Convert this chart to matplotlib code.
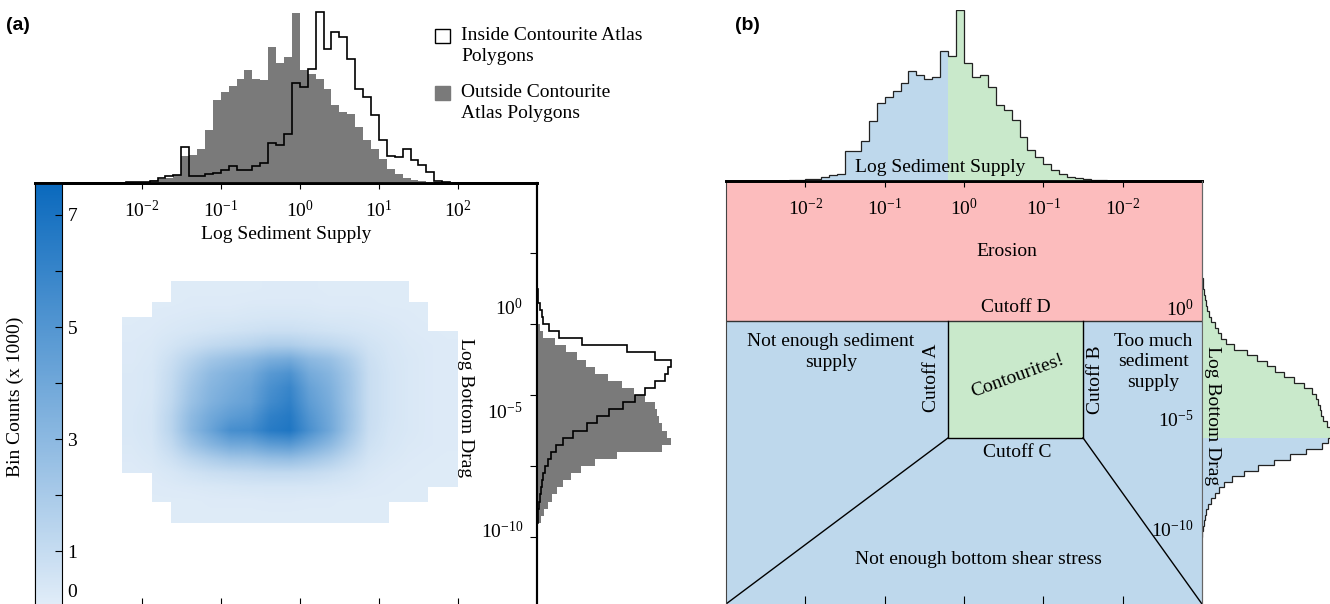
import numpy as np
import matplotlib
matplotlib.use('Agg')
import matplotlib.pyplot as plt
from matplotlib.colors import LinearSegmentedColormap
from matplotlib.patches import Rectangle

plt.rcParams['font.family'] = ['Liberation Serif', 'DejaVu Serif']
plt.rcParams['mathtext.fontset'] = 'custom'
plt.rcParams['mathtext.rm'] = 'Liberation Serif'
plt.rcParams['mathtext.it'] = 'Liberation Serif:italic'
plt.rcParams['mathtext.bf'] = 'Liberation Serif:bold'
plt.rcParams['font.size'] = 14

nan = np.nan

# ---------------- data ----------------
# log10 sediment supply bins (0.1 decade), panel (a) top histogram
supply_edges = np.round(np.linspace(-3.0, 2.5, 56), 2)
supply_outside = [0, 0, 0, 0, 0, 0, 0.3, 0.3, 0.5, 0.8,
                  1.5, 2.7, 3.7, 5, 7.7, 27, 28, 34, 53, 83,
                  91, 97, 104, 113, 104, 103, 136, 120, 126, 170,
                  113, 109, 104, 94, 78, 71, 69, 56, 43, 34,
                  24, 14, 9, 5, 3.3, 2, 1, 0.5, 0.3, 0,
                  0, 0, 0, 0, 0]
supply_inside = [0.3, 0.3, 0.3, 0.3, 0.3, 0.3, 0.4, 0.5, 0.6, 0.8,
                 1, 2, 5, 7, 8, 36, 7, 7.5, 9, 10,
                 13, 17, 13, 13, 17, 20, 40, 38, 49, 100,
                 96, 114, 171, 134, 151, 146, 124, 94, 86, 68,
                 43, 27, 26, 34, 23, 18, 11, 2, 0.8, 0.5,
                 0.3, 0.3, 0.3, 0.3, 0.3]

# log10 bottom drag bins (0.5 decade), panel (a) right histogram, bottom -> top
drag_edges = np.round(np.linspace(-14.5, 2.5, 35), 2)
drag_outside = [1, 4, 7, 11, 15, 20, 26, 34, 44, 58, 80, 125, 134, 130, 125, 122,
                120, 118, 108, 97, 85, 71, 58, 49, 40, 29, 18, 6, 3, 1, 0, 0, 0, 0]
drag_inside = [0, 0.5, 1, 2, 3, 4, 5, 6, 8, 11, 14, 19, 26, 36, 50, 60,
               72, 86, 98, 108, 118, 128, 131, 134, 118, 90, 45, 22, 12, 6, 5, 3, 1, 0.5]

# 2D bin counts (x 1000); columns: log supply -2.25..2.0 (0.25), rows: log drag 3..-14 (1)
bin_counts = np.array([
    [nan, nan, .1, .1, .1, .1, .1, .15, .15, .15, .1, .1, .1, .1, .1, nan, nan],
    [nan, .1, .1, .15, .15, .15, .2, .2, .2, .2, .15, .15, .15, .1, .1, .1, nan],
    [.1, .15, .2, .25, .3, .3, .35, .4, .4, .35, .3, .3, .25, .2, .15, .1, nan],
    [.15, .2, .3, .4, .5, .6, .7, .8, .8, .7, .6, .5, .4, .3, .2, .15, .1],
    [.2, .25, .5, .8, 1.1, 1.3, 1.5, 1.8, 1.8, 1.5, 1.3, 1.0, .6, .4, .25, .2, .15],
    [.2, .3, .8, 1.5, 2.2, 2.6, 3.0, 3.6, 3.8, 3.0, 2.6, 1.8, .8, .45, .3, .2, .15],
    [.25, .35, 1.0, 2.0, 2.9, 3.4, 3.8, 4.8, 5.2, 3.8, 3.2, 2.2, .9, .5, .3, .2, .15],
    [.25, .35, 1.1, 2.3, 3.2, 3.7, 4.2, 5.3, 5.9, 4.3, 3.5, 2.3, .9, .5, .3, .2, .15],
    [.25, .4, 1.2, 2.5, 3.4, 4.0, 4.4, 5.6, 6.2, 4.6, 3.7, 2.3, .9, .5, .3, .2, .15],
    [.3, .45, 1.4, 2.9, 3.9, 4.6, 5.0, 6.2, 6.6, 5.0, 3.9, 2.4, .9, .5, .3, .2, .15],
    [.3, .45, 1.4, 3.0, 4.2, 5.4, 5.6, 6.5, 6.8, 5.3, 4.0, 2.3, .85, .45, .3, .2, .15],
    [.25, .4, 1.1, 2.3, 3.2, 3.9, 4.0, 4.6, 4.8, 3.9, 3.0, 1.8, .7, .4, .25, .2, .15],
    [.2, .3, .7, 1.3, 1.8, 2.2, 2.3, 2.6, 2.7, 2.3, 1.8, 1.1, .5, .3, .2, .15, .1],
    [.15, .2, .35, .6, .8, .9, 1.0, 1.1, 1.1, 1.0, .8, .55, .3, .2, .15, .1, .1],
    [nan, .15, .2, .25, .3, .35, .4, .4, .4, .4, .35, .3, .2, .15, .1, .1, .1],
    [nan, .1, .1, .1, .15, .15, .15, .2, .2, .15, .15, .1, .1, .1, .1, .1, nan],
    [nan, nan, .1, .1, .1, .1, .1, .1, .1, .1, .1, .1, .1, .1, nan, nan, nan],
])
bin_extent = [-2.25, 2.0, -14, 3]

# panel (b): total histograms split by the cutoffs
total_supply_edges = np.round(np.linspace(-3.0, 3.0, 61), 2)
total_supply = [0.3] * 8 + [1, 1.5, 2, 2.5, 4, 6, 7, 30, 30, 40,
                            60, 78, 84, 90, 98, 110, 106, 102, 104, 130,
                            125, 171, 118, 104, 106, 94, 76, 71, 61, 44,
                            31, 24, 17, 11, 7, 4, 2.7, 1.7, 1, 0.7] + [0.3] * 12
total_drag_edges = np.round(np.linspace(-10.4, 1.35, 48), 2)
total_drag = [0.3, 0.8, 1.5, 2.5, 4, 6, 9, 13, 17, 22, 30, 42, 56, 72, 88, 104, 120, 126,
              132, 130, 125, 121, 119, 118, 116, 114, 110, 102, 92, 82, 73, 65, 55, 45,
              32, 24, 19, 16, 13, 9, 7, 5, 4, 3, 2, 1, 0.5]

cutoff_a = -0.2
cutoff_b = 1.5
cutoff_c = -5.9
cutoff_d = -0.6

decades = [-2, -1, 0, 1, 2]
supply_labels_a = ['$10^{-2}$', '$10^{-1}$', '$10^{0}$', '$10^{1}$', '$10^{2}$']
supply_labels_b = ['$10^{-2}$', '$10^{-1}$', '$10^{0}$', '$10^{-1}$', '$10^{-2}$']
drag_marks = [5, 0, -5, -10, -15]
drag_label_pos = [1.2, -6.1, -14.5]
drag_labels = ['$10^{0}$', '$10^{-5}$', '$10^{-10}$']
drag_labels_b_pos = [0, -5, -10]

count_ticks = [0, 1, 2, 3, 4, 5, 6, 7]
count_labels = ['', '1', '', '3', '', '5', '', '7']
zero_label_pos = 0.3  # the "0" sits just above the bottom edge

legend_labels = ['Inside Contourite Atlas\nPolygons', 'Outside Contourite\nAtlas Polygons']

grey = '#7a7a7a'
pink = '#fcbcbd'
blue = '#bed8ec'
green = '#c9e9cb'

W, H = 1330, 604
fig = plt.figure(figsize=(W / 100, H / 100), dpi=100)


def box(l, t, r, b):
    return fig.add_axes([l / W, (H - b) / H, (r - l) / W, (b - t) / H])


# ================= panel (a) =================
ax = box(35, 183, 537, 610)
cmap = LinearSegmentedColormap.from_list('bins', ['#e3eef9', '#0a69bd'])
im = ax.imshow(bin_counts, cmap=cmap, vmin=-0.05, vmax=7.57, extent=bin_extent,
               aspect='auto', interpolation='bilinear')
ax.set_xlim(-3.35, 3.0)
ax.set_ylim(-20.14, 9.93)
ax.set_facecolor('none')
ax.set_xticks(decades)
ax.set_yticks([])
ax.tick_params(axis='x', direction='in', length=9, labelbottom=False)
ax.spines['top'].set_linewidth(2)
ax.spines['left'].set_color('#333333')
ax.spines['right'].set_linewidth(1.5)

cax = box(35, 183, 62, 610)
cbar = fig.colorbar(im, cax=cax)
cbar.set_ticks(count_ticks)
cbar.set_ticklabels(count_labels)
cax.yaxis.set_ticks_position('right')
cax.set_yticks([zero_label_pos], labels=['0'], minor=True)
cax.tick_params(which='major', direction='in', length=5, pad=4, labelsize=14)
cax.tick_params(which='minor', length=0, pad=4, labelsize=14)
cbar.outline.set_linewidth(0.8)
cax.yaxis.set_label_position('left')
cax.set_ylabel('Bin Counts (x 1000)', fontsize=14, labelpad=8)

# top histogram
axt = box(35, 10, 537, 183)
axt.stairs(supply_outside, supply_edges, fill=True, color=grey)
axt.stairs(supply_inside, supply_edges, color='black', lw=1.2)
axt.set_xlim(-3.35, 3.0)
axt.set_ylim(0, 173)
axt.set_facecolor('none')
for s in ['top', 'left', 'right']:
    axt.spines[s].set_visible(False)
axt.spines['bottom'].set_linewidth(2)
axt.set_yticks([])
axt.set_xticks(decades, labels=supply_labels_a)
axt.tick_params(axis='x', direction='out', length=4, pad=8, labelsize=14)
axt.set_xlabel('Log Sediment Supply', fontsize=14, labelpad=4)

# legend, square beside the first line of each entry
swatches = [('white', 'black'), (grey, grey)]
for i, (label, (fc, ec)) in enumerate(zip(legend_labels, swatches)):
    top = 29 + 57 * i
    fig.add_artist(Rectangle((435 / W, (H - top - 14) / H), 15 / W, 14 / H,
                             facecolor=fc, edgecolor=ec, lw=1, transform=fig.transFigure))
    fig.text(461 / W, 1 - (top + 17) / H, label, ha='left', va='center',
             fontsize=14, linespacing=1.38)

# right histogram
axr = box(537, 183, 680, 610)
axr.stairs(drag_outside, drag_edges, orientation='horizontal', fill=True, color=grey)
axr.stairs(drag_inside, drag_edges, orientation='horizontal', color='black', lw=1.2)
axr.set_ylim(-20.14, 9.93)
axr.set_xlim(0, 143)
axr.set_facecolor('none')
for s in ['top', 'bottom', 'right']:
    axr.spines[s].set_visible(False)
axr.spines['left'].set_linewidth(1.5)
axr.set_xticks([])
axr.set_yticks(drag_marks, labels=[''] * len(drag_marks))
axr.set_yticks(drag_label_pos, labels=drag_labels, minor=True)
axr.tick_params(axis='y', which='major', direction='out', length=5)
axr.tick_params(axis='y', which='minor', length=0, pad=10, labelsize=14)
axr.text(-0.503, 0.473, 'Log Bottom Drag', transform=axr.transAxes, rotation=270,
         ha='center', va='center', fontsize=14)

fig.text(18 / W, 1 - 25 / H, '(a)', family='Liberation Sans', fontweight='bold',
         fontsize=14, ha='center', va='center')

# ================= panel (b) =================
ymin_b, ymax_b = -13.45, 5.77
bx = box(726, 181, 1202, 604)
bx.set_xlim(-3, 3)
bx.set_ylim(ymin_b, ymax_b)
bx.set_facecolor(blue)
bx.axhspan(cutoff_d, ymax_b, color=pink, lw=0)
bx.fill_between([cutoff_a, cutoff_b], cutoff_c, cutoff_d, color=green, lw=0)
bx.axhline(cutoff_d, color='#333333', lw=1)
bx.plot([cutoff_a, cutoff_a, cutoff_b, cutoff_b], [cutoff_d, cutoff_c, cutoff_c, cutoff_d],
        color='black', lw=1)
bx.plot([cutoff_a, -3], [cutoff_c, ymin_b], color='black', lw=1)
bx.plot([cutoff_b, 3], [cutoff_c, ymin_b], color='black', lw=1)
bx.set_xticks(decades)
bx.set_yticks([])
bx.tick_params(axis='x', direction='in', length=6, labelbottom=False)
bx.spines['bottom'].set_visible(False)
bx.spines['top'].set_linewidth(2)
bx.spines['left'].set_color('#444444')
bx.spines['right'].set_color('#666666')

bx.text(0.54, 2.55, 'Erosion', ha='center', va='center', fontsize=14)
bx.text(0.65, 0.0, 'Cutoff D', ha='center', va='center', fontsize=14)
bx.text(-1.68, -2.0, 'Not enough sediment\nsupply', ha='center', va='center', fontsize=14,
        linespacing=1.25)
bx.text(-0.405, -3.18, 'Cutoff A', rotation=90, ha='center', va='center', fontsize=14)
bx.text(0.67, -3.09, 'Contourites!', rotation=20, ha='center', va='center', fontsize=14)
bx.text(1.66, -3.27, 'Cutoff B', rotation=90, ha='center', va='center', fontsize=14)
bx.text(2.39, -2.45, 'Too much\nsediment\nsupply', ha='center', va='center', fontsize=14,
        linespacing=1.25)
bx.text(0.67, -6.55, 'Cutoff C', ha='center', va='center', fontsize=14)
bx.text(0.18, -11.45, 'Not enough bottom shear stress', ha='center', va='center', fontsize=14)

# top histogram (b)
bt = box(726, 10, 1202, 181)
k = np.searchsorted(total_supply_edges, cutoff_a - 1e-9)
bt.stairs(total_supply[:k], total_supply_edges[:k + 1], fill=True, color=blue)
bt.stairs(total_supply[k:], total_supply_edges[k:], fill=True, color=green)
bt.stairs(total_supply, total_supply_edges, color='#222222', lw=0.9)
bt.set_xlim(-3, 3)
bt.set_ylim(0, 171)
bt.set_facecolor('none')
for s in ['top', 'left', 'right']:
    bt.spines[s].set_visible(False)
bt.spines['bottom'].set_linewidth(2)
bt.set_yticks([])
bt.set_xticks(decades, labels=supply_labels_b)
bt.tick_params(axis='x', direction='out', length=4, pad=8, labelsize=14)
bt.text(-0.30, 14, 'Log Sediment Supply', ha='center', va='center', fontsize=14)

# right histogram (b)
br = box(1202, 181, 1330, 604)
j = np.searchsorted(total_drag_edges, cutoff_c - 1e-9)
br.stairs(total_drag[:j], total_drag_edges[:j + 1], orientation='horizontal', fill=True, color=blue)
br.stairs(total_drag[j:], total_drag_edges[j:], orientation='horizontal', fill=True, color=green)
br.stairs(total_drag, total_drag_edges, orientation='horizontal', color='#222222', lw=0.9)
br.set_ylim(ymin_b, ymax_b)
br.set_xlim(0, 128)
br.set_facecolor('none')
for s in ['top', 'bottom', 'right']:
    br.spines[s].set_visible(False)
br.spines['left'].set_color('#666666')
br.set_xticks([])
br.set_yticks(drag_labels_b_pos, labels=drag_labels)
br.tick_params(axis='y', length=0, pad=6, labelsize=14)
br.text(11, -4.9, 'Log Bottom Drag', rotation=270, ha='center', va='center', fontsize=14)

fig.text(747 / W, 1 - 25 / H, '(b)', family='Liberation Sans', fontweight='bold',
         fontsize=14, ha='center', va='center')

fig.savefig('out.png', dpi=100)
